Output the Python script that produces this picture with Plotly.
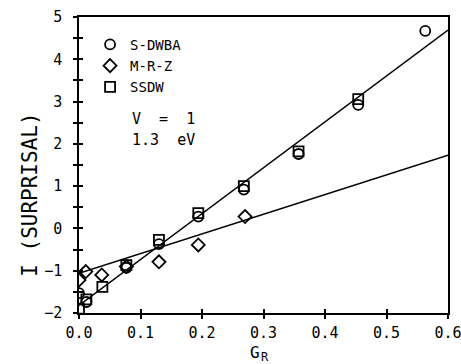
import plotly.graph_objects as go

# Surprisal I versus G_R for V = 1, 1.3 eV
g_dwba = [0.0, 0.012, 0.077, 0.130, 0.194, 0.268, 0.357, 0.454, 0.563]
i_dwba = [-1.53, -1.74, -0.93, -0.37, 0.28, 0.92, 1.76, 2.92, 4.67]

g_mrz = [0.0, 0.011, 0.037, 0.077, 0.130, 0.194, 0.270]
i_mrz = [-1.22, -1.02, -1.10, -0.90, -0.79, -0.39, 0.28]

g_ssdw = [0.0, 0.012, 0.038, 0.077, 0.130, 0.194, 0.268, 0.357, 0.454]
i_ssdw = [-1.90, -1.68, -1.38, -0.87, -0.27, 0.36, 1.00, 1.82, 3.06]

# straight-line fits drawn across the full G_R range
fit_g = [0.0, 0.6]
fit_steep = [-1.82, 4.69]
fit_shallow = [-1.06, 1.73]

FONT = "DejaVu Sans Mono"
INK = "black"

fig = go.Figure()

fig.add_trace(go.Scatter(x=fit_g, y=fit_steep, mode="lines",
                         line=dict(color=INK, width=1.4), showlegend=False))
fig.add_trace(go.Scatter(x=fit_g, y=fit_shallow, mode="lines",
                         line=dict(color=INK, width=1.4), showlegend=False))

fig.add_trace(go.Scatter(x=g_dwba, y=i_dwba, mode="markers", name="S-DWBA",
                         marker=dict(symbol="circle-open", size=10,
                                     color=INK, line=dict(width=1.8))))
fig.add_trace(go.Scatter(x=g_mrz, y=i_mrz, mode="markers", name="M-R-Z",
                         marker=dict(symbol="diamond-open", size=10,
                                     color=INK, line=dict(width=1.8))))
fig.add_trace(go.Scatter(x=g_ssdw, y=i_ssdw, mode="markers", name="SSDW",
                         marker=dict(symbol="square-open", size=10,
                                     color=INK, line=dict(width=1.8))))

# companion axes carrying the inward half of each cross-shaped tick
fig.add_trace(go.Scatter(x=[None], y=[None], xaxis="x2", yaxis="y2",
                         showlegend=False, hoverinfo="skip"))

fig.add_annotation(x=0.083, y=2.58, xref="x", yref="y", text="V  =  1",
                   showarrow=False, xanchor="left",
                   font=dict(family=FONT, size=15, color=INK))
fig.add_annotation(x=0.083, y=2.08, xref="x", yref="y", text="1.3  eV",
                   showarrow=False, xanchor="left",
                   font=dict(family=FONT, size=15, color=INK))

# axis titles: G with a lowered R subscript, and the rotated surprisal label
fig.add_annotation(x=0.477, y=-0.132, xref="paper", yref="paper",
                   text="G", showarrow=False,
                   xanchor="center", yanchor="middle",
                   font=dict(family=FONT, size=16, color=INK))
fig.add_annotation(x=0.504, y=-0.147, xref="paper", yref="paper",
                   text="R", showarrow=False,
                   xanchor="center", yanchor="middle",
                   font=dict(family=FONT, size=12, color=INK))
fig.add_annotation(x=-0.135, y=0.40, xref="paper", yref="paper",
                   text="I (SURPRISAL)", showarrow=False, textangle=-90,
                   xanchor="center", yanchor="middle",
                   font=dict(family=FONT, size=21, color=INK))

common_x = dict(range=[0, 0.6], dtick=0.1, showgrid=False, zeroline=False,
                automargin=False)
common_y = dict(range=[-2, 5], dtick=1, showgrid=False, zeroline=False,
                automargin=False)

fig.update_layout(
    width=461, height=364,
    margin=dict(l=79, r=13, t=17, b=51),
    paper_bgcolor="white", plot_bgcolor="white",
    font=dict(family=FONT, size=15, color=INK),
    showlegend=True,
    legend=dict(x=0.03, y=0.96, xanchor="left", yanchor="top",
                bgcolor="rgba(0,0,0,0)", font=dict(family=FONT, size=14),
                itemwidth=30, tracegroupgap=0),
    xaxis=dict(**common_x, tickformat=".1f", ticks="outside", ticklen=4,
               tickwidth=1.5, tickcolor=INK, showline=True, linewidth=1.5,
               linecolor=INK, mirror=True, ticklabelstandoff=1,
               ticklabeloverflow="allow"),
    yaxis=dict(**common_y, ticks="outside", ticklen=4, tickwidth=1.5,
               tickcolor=INK, showline=True, linewidth=1.5, linecolor=INK,
               mirror=True, ticklabelstandoff=8, ticklabeloverflow="allow",
               minor=dict(dtick=0.5, ticks="outside", ticklen=4,
                          tickwidth=1.5, tickcolor=INK)),
    xaxis2=dict(**common_x, overlaying="x", side="bottom", anchor="y2",
                ticks="inside", ticklen=4, tickwidth=1.5, tickcolor=INK,
                showticklabels=False, showline=False),
    yaxis2=dict(**common_y, overlaying="y", side="left", anchor="x2",
                ticks="inside", ticklen=4, tickwidth=1.5, tickcolor=INK,
                showticklabels=False, showline=False,
                minor=dict(dtick=0.5, ticks="inside", ticklen=4,
                           tickwidth=1.5, tickcolor=INK)),
)

fig.write_html("out.html")
